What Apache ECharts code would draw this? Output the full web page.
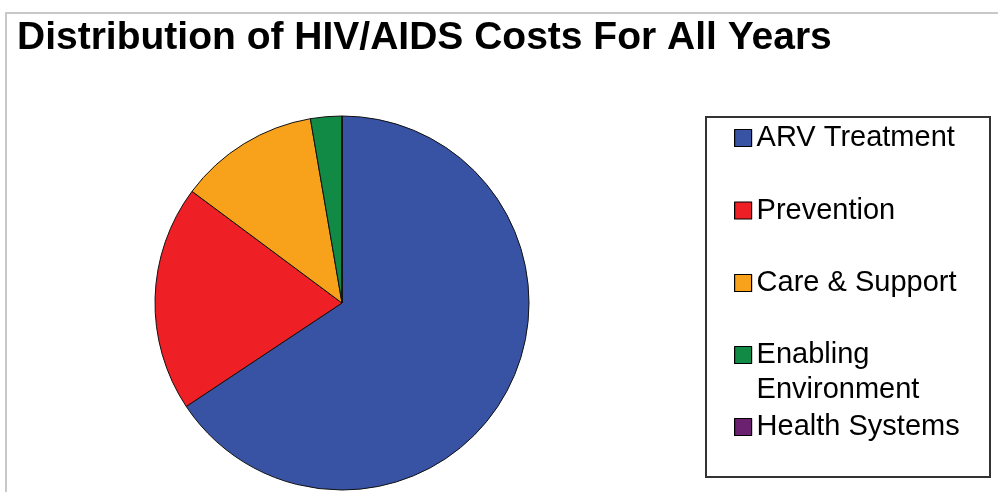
<!DOCTYPE html>
<html>
<head>
<meta charset="utf-8">
<script src="https://cdn.jsdelivr.net/npm/echarts@6/dist/echarts.min.js"></script>
<style>
html,body{margin:0;padding:0;background:#fff;}
#chart{width:998px;height:492px;}
</style>
</head>
<body>
<div id="chart"></div>
<script>
const categories = ['ARV Treatment', 'Prevention', 'Care & Support', 'Enabling Environment', 'Health Systems'];
const values = [65.6, 19.5, 12.1, 2.7, 0];
const colors = ['#3953A4', '#EE1F25', '#F8A21C', '#108A44', '#6B2070'];
const titleText = 'Distribution of HIV/AIDS Costs For All Years';

const chart = echarts.init(document.getElementById('chart'), null, {renderer: 'canvas'});
const font = '"Liberation Sans", Arial, sans-serif';
const legendText = {fontFamily: font, fontSize: 29, color: '#000', lineHeight: 35};
const iconStyle = {borderColor: '#000', borderWidth: 1.2};

chart.setOption({
  animation: false,
  backgroundColor: '#fff',
  title: {
    text: titleText,
    left: 17, top: 19, padding: 0,
    textStyle: {fontFamily: font, fontSize: 39, fontWeight: 'bold', color: '#000'}
  },
  graphic: [
    {type: 'rect', shape: {x: 6, y: 13, width: 1200, height: 700}, style: {fill: 'none', stroke: '#c8c8c8', lineWidth: 2}, silent: true, z: -1},
    {type: 'rect', shape: {x: 706, y: 117, width: 284, height: 360}, style: {fill: 'none', stroke: '#333', lineWidth: 2}, silent: true}
  ],
  legend: [
    {
      orient: 'vertical', left: 734, top: 120.5, padding: 0,
      itemWidth: 17, itemHeight: 17, itemGap: 37.5, icon: 'rect',
      selectedMode: false,
      itemStyle: iconStyle,
      textStyle: legendText,
      data: categories.slice(0, 3)
    },
    {
      orient: 'vertical', left: 734, top: 302.5, padding: 0,
      itemWidth: 17, itemHeight: 17, itemGap: 2, icon: 'rect',
      selectedMode: false,
      itemStyle: iconStyle,
      textStyle: legendText,
      formatter: function (n) { return n === 'Enabling Environment' ? ' \nEnabling\nEnvironment' : n; },
      data: categories.slice(3)
    }
  ],
  series: [{
    type: 'pie',
    center: [342, 303],
    radius: 187,
    startAngle: 90,
    clockwise: true,
    label: {show: false},
    labelLine: {show: false},
    emphasis: {disabled: true},
    itemStyle: {borderColor: '#111', borderWidth: 1},
    data: categories.map((c, i) => ({name: c, value: values[i], itemStyle: {color: colors[i]}}))
  }]
});
</script>
</body>
</html>
